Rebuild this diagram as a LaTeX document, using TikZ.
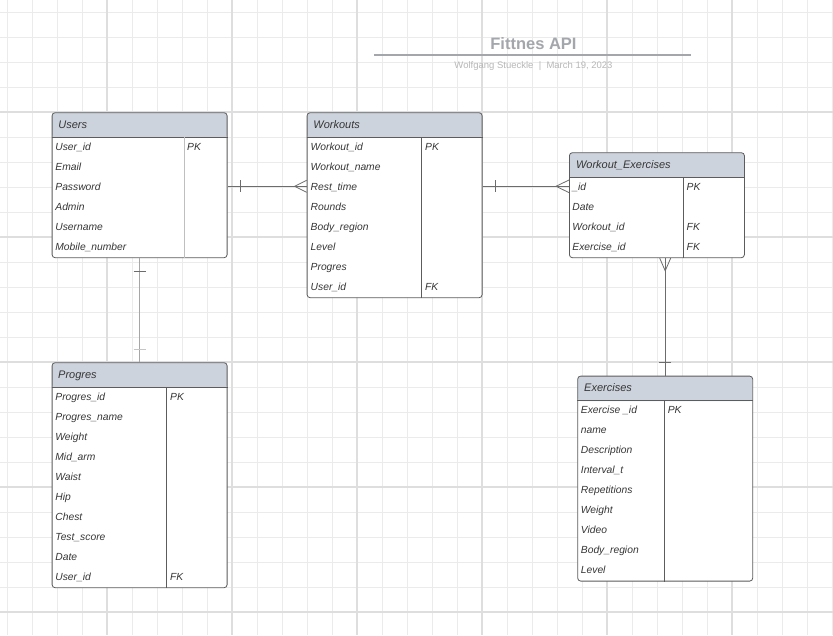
\documentclass[tikz,border=0pt]{standalone}
\usepackage{fontspec}
\setmainfont{Liberation Sans}
\usepackage{xcolor}
\usetikzlibrary{positioning, calc}

\definecolor{gridminor}{HTML}{EBEBEB}
\definecolor{gridmajor}{HTML}{DEDEDE}
\definecolor{headfill}{HTML}{CDD3DC}
\definecolor{frameline}{HTML}{5C5C5C}
\definecolor{fieldtext}{HTML}{363636}
\definecolor{titlegray}{HTML}{A3A6AB}
\definecolor{subgray}{HTML}{B8B8B8}

\begin{document}
\begin{tikzpicture}[
    x=1pt, y=1pt,
    ertable/.style={
        rectangle, draw=frameline, fill=white, rounded corners=3pt,
        line width=0.8pt, minimum width=175pt, inner sep=0pt,
        anchor=north west,
        path picture={\fill[headfill] (path picture bounding box.north west)
            rectangle ([yshift=-25pt]path picture bounding box.north east);}
    },
    tblhead/.style={
        anchor=west, inner sep=0pt, text=fieldtext,
        font=\fontsize{11}{13}\selectfont\itshape,
        text height=7.9pt, text depth=0pt
    },
    field/.style={
        anchor=west, inner sep=0pt, text=fieldtext,
        font=\fontsize{10.3}{12}\selectfont\itshape,
        text height=7.4pt, text depth=0pt
    },
    sepline/.style={draw=frameline, line width=0.8pt},
    rel/.style={draw=frameline!90, line width=0.8pt},
    gridline/.style={gridminor, line width=1pt},
    gridbold/.style={gridmajor, line width=1.3pt}
]
\useasboundingbox (0,0) rectangle (833,-635);
\fill[white] (0,0) rectangle (833,-635);

% Background grid
\foreach \gx in {7,32,...,832}
    \draw[gridline] (\gx,0) -- (\gx,-635);
\foreach \gy in {12,37,...,612}
    \draw[gridline] (0,-\gy) -- (833,-\gy);
\foreach \gx in {107,232,...,732}
    \draw[gridbold] (\gx,0) -- (\gx,-635);
\foreach \gy in {112,237,...,612}
    \draw[gridbold, line width=1.1pt] (0,-\gy) -- (833,-\gy);

% Title block
\node[anchor=base, inner sep=0pt, text=titlegray,
      font=\fontsize{16.5}{18}\selectfont\bfseries] (title) at (533.5,-49) {Fittnes API};
\draw[titlegray, line width=1.2pt] (374,-55) -- (691,-55);
\node[anchor=base, inner sep=0pt, text=subgray,
      font=\fontsize{9.5}{11}\selectfont] (subtitle) at (533.5,-68.3)
      {Wolfgang Stueckle \ | \ March 19, 2023};

% Users
\node[ertable, minimum height=145pt] (users) at (51.7,-112.3) {};
\node[tblhead] (users-h) at ([shift={(6.5,-12)}]users.north west) {Users};
\draw[sepline] ([yshift=-25pt]users.north west) -- ([yshift=-25pt]users.north east);
\draw[draw=gray!50, line width=1pt] ([shift={(132.3,-25)}]users.north west) -- ([xshift=132.3pt]users.south west);
\foreach \f [count=\i] in {User\_id, Email, Password, Admin, Username, Mobile\_number}
    \node[field] (users-\i) at ([shift={(3.5,{-14-20*\i})}]users.north west) {\f};
\node[field] (users-pk) at ([shift={(135.3,-34)}]users.north west) {PK};

% Workouts
\node[ertable, minimum height=185pt] (workouts) at (306.7,-112.3) {};
\node[tblhead] (workouts-h) at ([shift={(6.5,-12)}]workouts.north west) {Workouts};
\draw[sepline] ([yshift=-25pt]workouts.north west) -- ([yshift=-25pt]workouts.north east);
\draw[sepline] ([shift={(115,-25)}]workouts.north west) -- ([xshift=115pt]workouts.south west);
\foreach \f [count=\i] in {Workout\_id, Workout\_name, Rest\_time, Rounds, Body\_region, Level, Progres, User\_id}
    \node[field] (workouts-\i) at ([shift={(3.8,{-14-20*\i})}]workouts.north west) {\f};
\node[field] (workouts-pk) at ([shift={(118.3,-34)}]workouts.north west) {PK};
\node[field] (workouts-fk) at ([shift={(118.3,-174)}]workouts.north west) {FK};

% Workout_Exercises
\node[ertable, minimum height=105pt] (workoutex) at (569,-152.3) {};
\node[tblhead] (workoutex-h) at ([shift={(6.8,-12)}]workoutex.north west) {Workout\_Exercises};
\draw[sepline] ([yshift=-25pt]workoutex.north west) -- ([yshift=-25pt]workoutex.north east);
\draw[sepline] ([shift={(114.3,-25)}]workoutex.north west) -- ([xshift=114.3pt]workoutex.south west);
\foreach \f [count=\i] in {\_id, Date, Workout\_id, Exercise\_id}
    \node[field] (workoutex-\i) at ([shift={(3.2,{-14-20*\i})}]workoutex.north west) {\f};
\node[field] (workoutex-pk) at ([shift={(117.5,-34)}]workoutex.north west) {PK};
\node[field] (workoutex-fk1) at ([shift={(117.5,-74)}]workoutex.north west) {FK};
\node[field] (workoutex-fk2) at ([shift={(117.5,-94)}]workoutex.north west) {FK};

% Progres
\node[ertable, minimum height=225pt] (progres) at (51.7,-362.3) {};
\node[tblhead] (progres-h) at ([shift={(6.3,-12)}]progres.north west) {Progres};
\draw[sepline] ([yshift=-25pt]progres.north west) -- ([yshift=-25pt]progres.north east);
\draw[sepline] ([shift={(115,-25)}]progres.north west) -- ([xshift=115pt]progres.south west);
\foreach \f [count=\i] in {Progres\_id, Progres\_name, Weight, Mid\_arm, Waist, Hip, Chest, Test\_score, Date, User\_id}
    \node[field] (progres-\i) at ([shift={(3.5,{-14-20*\i})}]progres.north west) {\f};
\node[field] (progres-pk) at ([shift={(118.3,-34)}]progres.north west) {PK};
\node[field] (progres-fk) at ([shift={(118.3,-214)}]progres.north west) {FK};

% Exercises
\node[ertable, minimum height=205pt] (exercises) at (577.3,-375.7) {};
\node[tblhead] (exercises-h) at ([shift={(6.7,-12)}]exercises.north west) {Exercises};
\draw[sepline] ([yshift=-25pt]exercises.north west) -- ([yshift=-25pt]exercises.north east);
\draw[sepline] ([shift={(87,-25)}]exercises.north west) -- ([xshift=87pt]exercises.south west);
\foreach \f [count=\i] in {Exercise \_id, name, Description, Interval\_t, Repetitions, Weight, Video, Body\_region, Level}
    \node[field] (exercises-\i) at ([shift={(3.4,{-14-20*\i})}]exercises.north west) {\f};
\node[field] (exercises-pk) at ([shift={(90.3,-34)}]exercises.north west) {PK};

% Relations
\coordinate (uw1) at (users.east |- users-3);
\coordinate (uw2) at (workouts.west |- workouts-3);
\draw[rel] (uw1) -- (uw2);
\draw[rel] ([shift={(13,6)}]uw1) -- ([shift={(13,-6)}]uw1);
\draw[rel] ([yshift=6pt]uw2) -- ([xshift=-12pt]uw2) -- ([yshift=-6pt]uw2);

\coordinate (ww1) at (workouts.east |- workouts-3);
\coordinate (ww2) at (workoutex.west |- workoutex-1);
\draw[rel] (ww1) -- (ww2);
\draw[rel] ([shift={(13,6)}]ww1) -- ([shift={(13,-6)}]ww1);
\draw[rel] ([yshift=6.3pt]ww2) -- ([xshift=-13pt]ww2) -- ([yshift=-6.3pt]ww2);

\draw[draw=gray!70, line width=0.8pt] (users.south) -- (progres.north);
\draw[rel] ([shift={(-6,-13)}]users.south) -- ([shift={(6,-13)}]users.south);
\draw[draw=gray!45, line width=0.8pt] ([shift={(-6,13)}]progres.north) -- ([shift={(6,13)}]progres.north);

\coordinate (we1) at (workoutex.south -| exercises.north);
\draw[rel] (we1) -- (exercises.north);
\draw[rel] ([xshift=-5.5pt]we1) -- ([yshift=-12.7pt]we1) -- ([xshift=5.5pt]we1);
\draw[rel] ([shift={(-6,13)}]exercises.north) -- ([shift={(6,13)}]exercises.north);
\end{tikzpicture}
\end{document}
